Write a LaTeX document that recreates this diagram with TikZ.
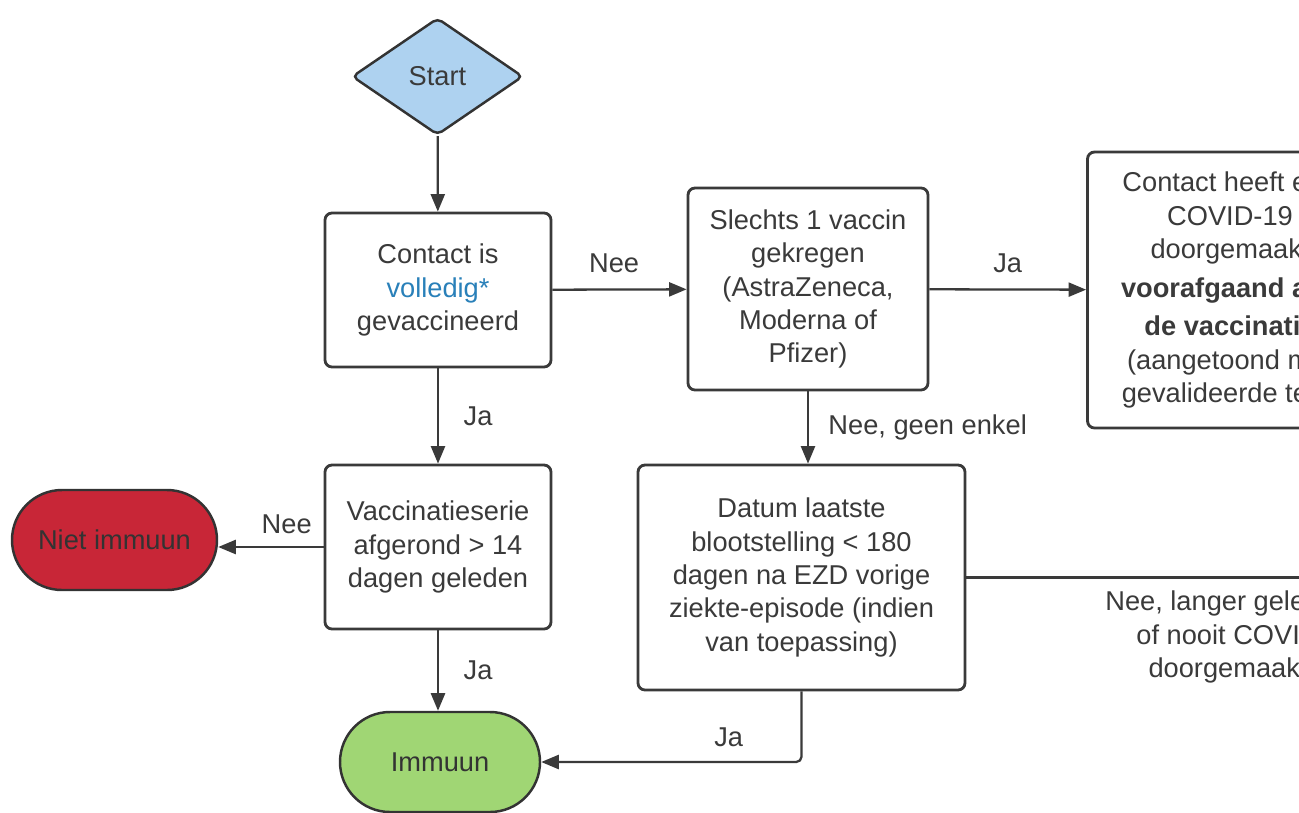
\documentclass[tikz,border=0pt]{standalone}
\usepackage{fontspec}
\setmainfont{Liberation Sans}
\usepackage{xcolor}
\usetikzlibrary{positioning}
\usetikzlibrary{calc,arrows.meta}
\usetikzlibrary{shapes.geometric}

\definecolor{StartBlue}{RGB}{174,210,240}
\definecolor{NietRed}{RGB}{200,38,55}
\definecolor{ImmuunGreen}{RGB}{160,214,116}
\definecolor{LinkBlue}{RGB}{41,128,185}
\definecolor{InkGrey}{RGB}{58,58,58}

\newcommand{\flowfont}{\fontsize{15.5}{19}\selectfont}

\tikzset{
	flowbox/.style={draw=InkGrey, line width=1.6pt, rounded corners=4pt, fill=white,
		align=center, text=InkGrey, font=\flowfont, inner sep=0pt},
	endbox/.style={draw=black!80, line width=1.4pt, rounded corners=1cm,
		minimum height=2cm, text=black!80, font=\flowfont},
	flowarrow/.style={draw=InkGrey, line width=1.3pt, -{Triangle[length=10pt,width=8pt]}},
	flowlabel/.style={text=InkGrey, font=\flowfont, inner sep=0pt},
}

\begin{document}
\begin{tikzpicture}

	% ---------------------
	% Frame
	\useasboundingbox (0.00cm,0.00cm) rectangle (25.98cm,-16.24cm);
	\fill[white] (0.00cm,0.00cm) rectangle (25.98cm,-16.24cm);
	\clip (0.00cm,0.00cm) rectangle (25.98cm,-16.24cm);

	% ---------------------
	% Positions
	\coordinate (StartPos) at (8.75cm,-1.53cm);
	\path (StartPos) +(0.01cm,-4.27cm) coordinate (VolledigPos);
	\path (VolledigPos) +(7.40cm,0.02cm) coordinate (EenVaccinPos);
	\path (VolledigPos) +(15.84cm,0.00cm) coordinate (InfectiePos);
	\path (VolledigPos) +(0.00cm,-5.14cm) coordinate (SeriePos);
	\path (EenVaccinPos) +(-0.13cm,-5.77cm) coordinate (DatumPos);
	\coordinate (NietPos) at (2.29cm,-10.80cm);
	\coordinate (ImmuunPos) at (8.80cm,-15.24cm);

	% ------------------------------------------------
	% Nodes
	\node[diamond, draw=black!80, line width=1.4pt, rounded corners=3pt, fill=StartBlue,
		minimum width=3.42cm, minimum height=2.34cm, inner sep=0pt,
		text=InkGrey, font=\flowfont] (Start) at (StartPos) {Start};

	\node[flowbox, minimum width=4.52cm, minimum height=3.08cm] (Volledig) at (VolledigPos)
		{Contact is\\ \textcolor{LinkBlue}{volledig*}\\ gevaccineerd};

	\node[flowbox, minimum width=4.80cm, minimum height=4.04cm] (EenVaccin) at (EenVaccinPos)
		{Slechts 1 vaccin\\ gekregen\\ (AstraZeneca,\\ Moderna of\\ Pfizer)};

	\node[flowbox, minimum width=5.70cm, minimum height=5.52cm] (Infectie) at (InfectiePos)
		{Contact heeft een\\ COVID-19\\ doorgemaakt\\[3pt] \textbf{voorafgaand aan}\\[3pt]
		\textbf{de vaccinatie}\\ (aangetoond met\\ gevalideerde test)};

	\node[flowbox, minimum width=4.52cm, minimum height=3.28cm] (Serie) at (SeriePos)
		{Vaccinatieserie\\ afgerond > 14\\ dagen geleden};

	\node[flowbox, minimum width=6.54cm, minimum height=4.50cm] (Datum) at (DatumPos)
		{Datum laatste\\ blootstelling < 180\\ dagen na EZD vorige\\ ziekte-episode (indien\\ van toepassing)};

	\node[endbox, fill=NietRed, minimum width=4.10cm] (Niet) at (NietPos) {Niet immuun};
	\node[endbox, fill=ImmuunGreen, minimum width=4.00cm] (Immuun) at (ImmuunPos) {Immuun};

	% ------------------------------------------------
	% Connectors
	\draw[flowarrow] (Start) -- (Volledig);
	\draw[flowarrow] (Volledig) -- (EenVaccin)
		node[flowlabel, pos=0.46, above=9pt] {Nee};
	\draw[flowarrow] (EenVaccin) -- (Infectie)
		node[flowlabel, midway, above=9pt] {Ja};
	\draw[flowarrow] (Volledig) -- (Serie)
		node[flowlabel, midway, right=14pt] {Ja};
	\draw[flowarrow] (EenVaccin.south) -- (EenVaccin.south |- Datum.north)
		node[flowlabel, midway, right=11pt] {Nee, geen enkel};
	\draw[flowarrow] (Serie.west) -- (Serie.west -| Niet.east)
		node[flowlabel, pos=0.35, above=7pt] {Nee};
	\draw[flowarrow] (Serie.south) -- (Serie.south |- Immuun.north)
		node[flowlabel, midway, right=14pt] {Ja};
	\draw[flowarrow, rounded corners=3pt] (Datum.south) |- (Immuun.east)
		node[flowlabel, pos=0.64, above=8pt] {Ja};

	\path (Datum.east) +(12.00cm,0.00cm) coordinate (LangerEnd);
	\draw[draw=InkGrey, line width=1.3pt] (Datum.east) -- (LangerEnd);
	\node[flowlabel, align=center] (LangerLabel) at (24.56cm,-12.74cm)
		{Nee, langer geleden\\ of nooit COVID\\ doorgemaakt};

\end{tikzpicture}
\end{document}
